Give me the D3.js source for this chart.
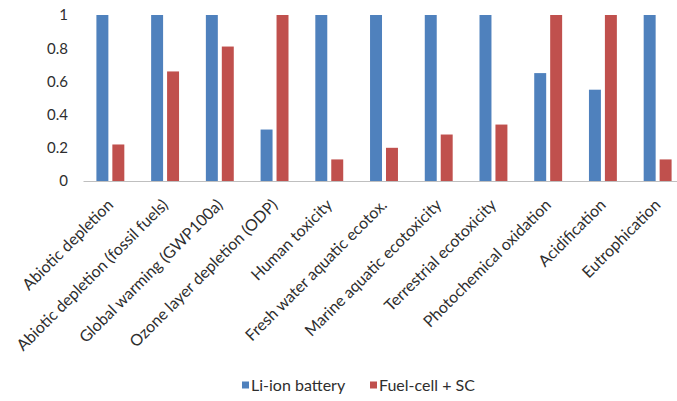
<!DOCTYPE html>
<html>
<head>
<meta charset="utf-8">
<script src="https://cdn.jsdelivr.net/npm/d3@7"></script>
<style>
  html, body { margin: 0; padding: 0; background: #ffffff; }
  svg { display: block; }
  text { font-family: Lato, "Liberation Sans", sans-serif; fill: #2e2e2e; }
</style>
</head>
<body>
<svg id="chart" width="677" height="401"></svg>
<script>
const categories = [
  "Abiotic depletion",
  "Abiotic depletion (fossil fuels)",
  "Global warming (GWP100a)",
  "Ozone layer depletion (ODP)",
  "Human toxicity",
  "Fresh water aquatic ecotox.",
  "Marine aquatic ecotoxicity",
  "Terrestrial ecotoxicity",
  "Photochemical oxidation",
  "Acidification",
  "Eutrophication"
];
const seriesNames = ["Li-ion battery", "Fuel-cell + SC"];
const liIon   = [1, 1, 1, 0.31, 1, 1, 1, 1, 0.65, 0.55, 1];
const fuelCell = [0.22, 0.66, 0.81, 1, 0.13, 0.20, 0.28, 0.34, 1, 1, 0.13];
const yTicks = [0, 0.2, 0.4, 0.6, 0.8, 1];
const yTickLabels = ["0", "0.2", "0.4", "0.6", "0.8", "1"];
const colors = ["#4F81BD", "#C0504D"];

const svg = d3.select("#chart");
const plotLeft = 83, plotRight = 685, plotTop = 15, plotBottom = 181;

const x0 = d3.scaleBand().domain(categories).range([plotLeft, plotRight])
  .paddingInner(0.49).paddingOuter(0.245);
const x1 = d3.scaleBand().domain(seriesNames).range([0, x0.bandwidth()])
  .paddingInner(0.25).paddingOuter(0);
const y = d3.scaleLinear().domain([0, 1]).range([plotBottom, plotTop]);

const seriesData = [liIon, fuelCell];

// bars
seriesNames.forEach((s, si) => {
  svg.append("g").selectAll("rect")
    .data(categories.map((c, i) => ({ c, v: seriesData[si][i] })))
    .join("rect")
    .attr("x", d => x0(d.c) + x1(s))
    .attr("y", d => y(d.v))
    .attr("width", x1.bandwidth())
    .attr("height", d => y(0) - y(d.v))
    .attr("fill", colors[si]);
});

// y axis (labels only)
const yAxis = d3.axisLeft(y).tickValues(yTicks)
  .tickFormat((d, i) => yTickLabels[i]).tickSize(0).tickPadding(0);
const gy = svg.append("g").attr("transform", "translate(68,0)").call(yAxis);
gy.select(".domain").remove();
gy.selectAll("text").attr("font-size", "15px").attr("fill", "#2e2e2e")
  .style("font-family", "Lato, 'Liberation Sans', sans-serif");

// x axis baseline
const xAxis = d3.axisBottom(x0).tickSize(0).tickSizeOuter(0).tickFormat("");
const gx = svg.append("g").attr("transform", `translate(0,${plotBottom})`).call(xAxis);
gx.select(".domain").attr("stroke", "#BFBFBF").attr("stroke-width", 1.2);

// rotated category labels
svg.append("g").selectAll("text")
  .data(categories)
  .join("text")
  .attr("transform", d => `translate(${x0(d) + x0.bandwidth() / 2},${plotBottom + 21}) rotate(-45)`)
  .attr("text-anchor", "end")
  .attr("dy", "0.35em")
  .attr("font-size", "16px")
  .text(d => d);

// legend
const legend = svg.append("g").attr("transform", "translate(242,385)");
const items = [{ name: seriesNames[0], x: 0 }, { name: seriesNames[1], x: 128 }];
items.forEach((it, i) => {
  const g = legend.append("g").attr("transform", `translate(${it.x},0)`);
  g.append("rect").attr("x", 0).attr("y", -3.5).attr("width", 7).attr("height", 7).attr("fill", colors[i]);
  g.append("text").attr("x", 9).attr("dy", "0.35em").attr("font-size", "16px").text(it.name);
});
</script>
</body>
</html>
